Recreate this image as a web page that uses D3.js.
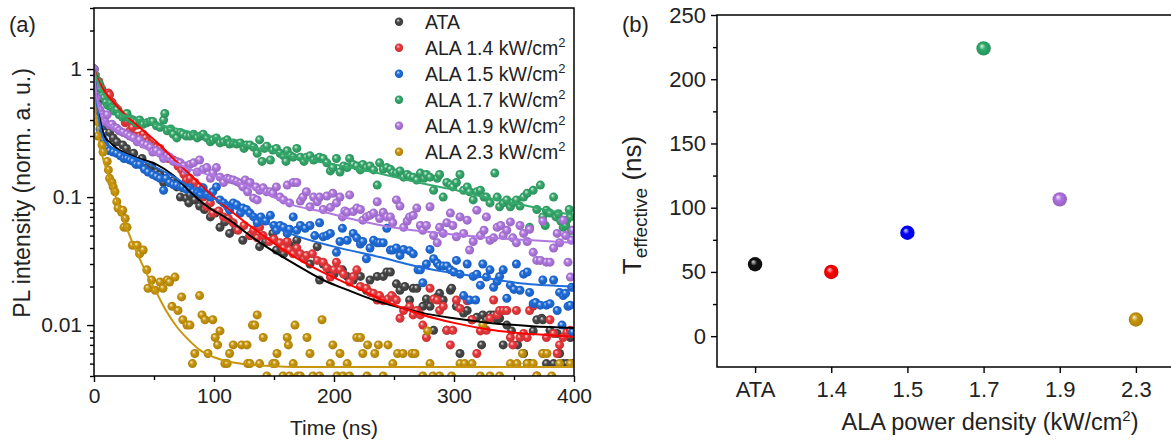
<!DOCTYPE html>
<html>
<head>
<meta charset="utf-8">
<script src="https://cdn.jsdelivr.net/npm/d3@7"></script>
<style>
body { margin: 0; background: #fff; }
svg { font-family: "Liberation Sans", Arial, sans-serif; }
</style>
</head>
<body>
<svg id="chart" width="1171" height="443"></svg>
<script>
// ---- panel (a): PL decay, [time ns, normalised intensity] ----
var ataPts = [[0,1.0],[1.7,0.75],[3.3,0.56],[5,0.46],[7.5,0.44],[10,0.36],[13,0.32],[16,0.29],[19,0.27],[24,0.255],[27,0.24],[30,0.21],[33,0.22],[36,0.19],[40,0.2],[44,0.17],[48,0.175],[52,0.157],[55,0.15],[58,0.13],[63,0.13],[66,0.135],[69,0.12],[72,0.10],[74,0.118],[77,0.098],[79,0.09],[80,0.104],[84,0.095],[88,0.085],[92,0.08],[97,0.07],[101,0.075],[105,0.058],[109,0.064],[113,0.052],[118,0.056],[124,0.046],[130,0.05],[138,0.041],[143,0.045],[149,0.052],[152,0.0386],[158,0.036],[163,0.042],[169,0.046],[174,0.034],[180,0.03],[186,0.041],[188,0.0225],[191,0.030],[196,0.027],[200,0.025],[207,0.027],[211,0.024],[216,0.0225],[222,0.024],[227,0.0187],[230,0.0225],[236,0.024],[241,0.024],[244,0.026],[247,0.026],[249,0.0166],[252,0.021],[255,0.0187],[259,0.02],[263,0.0157],[266,0.0194],[269,0.0194],[274,0.014],[277,0.016],[280,0.014],[283,0.0091],[286,0.0166],[288,0.0177],[291,0.0157],[294,0.0091],[297,0.0187],[298,0.0194],[302,0.014],[305,0.006],[308,0.0124],[311,0.013],[315,0.011],[319,0.0115],[323,0.007],[324,0.012],[327,0.011],[330,0.012],[333,0.012],[336,0.011],[338,0.0113],[341,0.007],[344,0.010],[348,0.009],[353,0.007],[358,0.006],[361,0.005],[363,0.005],[366,0.009],[369,0.011],[373,0.0113],[374,0.011],[377,0.005],[380,0.0091],[383,0.005],[386,0.0086],[388,0.006],[391,0.005],[394,0.005],[397,0.008],[399,0.005]];

var ala14Pts = [[0,1.0],[1,0.9],[2.5,0.79],[4,0.8],[5,0.75],[6.5,0.7],[7.5,0.66],[9,0.62],[11,0.59],[12,0.65],[13,0.63],[15,0.55],[16,0.52],[18,0.5],[20,0.48],[22,0.44],[24,0.42],[26,0.38],[27.5,0.39],[30,0.33],[32,0.35],[34,0.3],[36,0.365],[38,0.30],[41,0.31],[43,0.29],[45,0.27],[47,0.26],[50,0.25],[52,0.245],[55,0.24],[58,0.22],[62,0.2],[66,0.195],[70,0.175],[73,0.163],[75,0.15],[77,0.136],[80,0.14],[84,0.13],[88,0.12],[91,0.1],[94,0.084],[97,0.09],[99,0.075],[104,0.078],[108,0.07],[112,0.068],[116,0.063],[120,0.055],[125,0.06],[130,0.05],[133,0.055],[136,0.048],[138,0.058],[141,0.05],[146,0.045],[150,0.047],[155,0.044],[158,0.04],[161,0.045],[163,0.0386],[166,0.036],[169,0.04],[172,0.036],[175,0.033],[177,0.035],[182,0.036],[186,0.032],[191,0.031],[194,0.028],[197,0.0237],[200,0.027],[202,0.031],[205,0.027],[208,0.025],[213,0.0217],[216,0.024],[219,0.027],[222,0.02],[227,0.0194],[230,0.018],[233,0.0177],[236,0.0157],[238,0.017],[241,0.0155],[245,0.016],[248,0.017],[252,0.0157],[255,0.0113],[258,0.013],[263,0.014],[266,0.012],[269,0.013],[272,0.012],[274,0.010],[277,0.008],[280,0.0194],[283,0.016],[286,0.0157],[288,0.013],[291,0.014],[294,0.0091],[297,0.007],[299,0.0091],[302,0.0157],[305,0.0135],[311,0.0155],[315,0.011],[319,0.006],[322,0.009],[327,0.0091],[330,0.0113],[333,0.0157],[336,0.012],[338,0.013],[341,0.013],[344,0.013],[347,0.008],[349,0.007],[352,0.013],[355,0.008],[358,0.0086],[361,0.008],[363,0.013],[366,0.0141],[369,0.004],[374,0.006],[377,0.008],[380,0.011],[383,0.0086],[386,0.006],[388,0.007],[391,0.008],[394,0.0088],[397,0.0091],[399,0.0086]];

var ala15Pts = [[0,1.0],[1,0.71],[2,0.6],[2.5,0.52],[3.3,0.39],[5,0.34],[6.7,0.30],[8,0.28],[9,0.255],[11,0.24],[13,0.23],[16,0.225],[19,0.22],[22,0.21],[25,0.2],[27.5,0.2],[30,0.195],[32.5,0.19],[35,0.18],[38,0.18],[42,0.165],[45,0.157],[49,0.15],[52,0.145],[55,0.14],[58,0.113],[60,0.14],[63,0.13],[66,0.125],[69,0.124],[72,0.12],[74,0.12],[77,0.115],[80,0.118],[83,0.11],[86,0.11],[89,0.105],[91,0.118],[94,0.104],[97,0.1],[99,0.11],[102,0.12],[105,0.095],[108,0.09],[111,0.085],[113,0.079],[116,0.09],[119,0.087],[122,0.075],[124,0.082],[127,0.08],[130,0.075],[133,0.07],[136,0.063],[139,0.07],[143,0.065],[147,0.072],[150,0.06],[152,0.055],[155,0.06],[158,0.058],[161,0.052],[163,0.056],[166,0.07],[169,0.055],[172,0.06],[176,0.057],[180,0.06],[184,0.05],[188,0.063],[191,0.049],[194,0.05],[197,0.052],[202,0.037],[205,0.045],[207,0.057],[211,0.046],[216,0.052],[219,0.048],[222,0.043],[224,0.045],[227,0.033],[230,0.04],[233,0.046],[236,0.044],[238,0.044],[241,0.044],[244,0.057],[247,0.0386],[249,0.0386],[252,0.040],[255,0.035],[258,0.039],[263,0.038],[266,0.036],[270,0.027],[272,0.027],[274,0.0214],[277,0.03],[280,0.039],[283,0.033],[286,0.0305],[288,0.029],[291,0.029],[294,0.029],[297,0.027],[300,0.026],[302,0.032],[305,0.025],[308,0.017],[311,0.03],[313,0.0157],[316,0.024],[318,0.0157],[319,0.025],[322,0.0205],[324,0.03],[327,0.0237],[330,0.027],[333,0.0197],[336,0.022],[338,0.024],[341,0.027],[344,0.0162],[347,0.0205],[350,0.019],[352,0.03],[355,0.0187],[358,0.025],[361,0.026],[363,0.018],[366,0.0147],[368,0.015],[372,0.0143],[374,0.0225],[377,0.0143],[380,0.0147],[383,0.0225],[386,0.013],[388,0.018],[390,0.010],[391,0.017],[393,0.0177],[395,0.014],[397,0.0143],[398,0.0197],[399,0.0088]];

var ala17Pts = [[0,1.0],[1,0.9],[2.5,0.82],[4,0.78],[5.5,0.7],[7,0.62],[8.5,0.6],[10,0.55],[11.5,0.52],[13,0.54],[15,0.5],[17,0.47],[19,0.48],[21,0.44],[24,0.42],[26,0.43],[27.5,0.45],[30,0.41],[32.5,0.40],[35,0.38],[38,0.40],[41,0.37],[44,0.38],[47,0.39],[49,0.39],[52,0.36],[55,0.35],[58,0.40],[59,0.45],[61,0.33],[64,0.34],[66,0.31],[69,0.29],[72,0.32],[74,0.31],[77,0.3],[80,0.30],[83,0.31],[86,0.29],[89,0.3],[91,0.31],[94,0.29],[97,0.27],[99,0.28],[102,0.29],[105,0.265],[108,0.27],[111,0.28],[113,0.26],[116,0.265],[119,0.26],[122,0.265],[125,0.24],[127,0.255],[130,0.255],[133,0.245],[136,0.22],[138,0.28],[140,0.19],[142,0.24],[144,0.25],[147,0.195],[149,0.233],[152,0.24],[155,0.22],[158,0.21],[160,0.19],[161,0.23],[164,0.21],[166,0.205],[169,0.24],[172,0.205],[175,0.19],[177,0.205],[180,0.21],[183,0.195],[186,0.2],[188,0.205],[191,0.2],[194,0.185],[197,0.16],[199,0.17],[202,0.2],[205,0.157],[208,0.175],[211,0.17],[213,0.2],[216,0.18],[219,0.175],[222,0.163],[224,0.18],[227,0.17],[230,0.175],[233,0.163],[236,0.124],[238,0.185],[241,0.165],[244,0.17],[247,0.165],[249,0.155],[252,0.154],[255,0.16],[258,0.143],[261,0.15],[263,0.145],[266,0.143],[269,0.136],[272,0.154],[275,0.14],[277,0.15],[280,0.143],[283,0.113],[286,0.14],[288,0.15],[291,0.1],[294,0.13],[297,0.125],[299,0.12],[302,0.13],[305,0.15],[308,0.113],[311,0.12],[313,0.11],[316,0.095],[319,0.11],[322,0.113],[325,0.1],[327,0.1],[330,0.09],[334,0.154],[336,0.1],[338,0.084],[341,0.09],[344,0.095],[347,0.084],[349,0.09],[352,0.095],[355,0.085],[358,0.1],[361,0.107],[363,0.058],[366,0.113],[369,0.08],[372,0.124],[374,0.07],[376,0.06],[377,0.079],[380,0.075],[383,0.1],[385,0.07],[387,0.074],[389,0.065],[391,0.058],[393,0.06],[394,0.066],[396,0.08],[397,0.07],[398,0.055],[399,0.049]];

var ala19Pts = [[0,1.0],[1,0.75],[2,0.6],[3,0.52],[5,0.48],[6.7,0.44],[8,0.42],[9,0.39],[11,0.44],[13,0.365],[15,0.37],[17,0.35],[19,0.345],[21,0.33],[24,0.32],[27.5,0.31],[30,0.30],[33,0.29],[36,0.27],[38,0.28],[41,0.26],[44,0.255],[47,0.245],[49,0.225],[52,0.23],[55,0.22],[58,0.2],[61,0.21],[63,0.205],[66,0.19],[69,0.19],[72,0.185],[75,0.175],[77,0.163],[80,0.18],[83,0.185],[86,0.157],[88,0.195],[91,0.165],[94,0.17],[97,0.14],[99,0.154],[102,0.17],[105,0.143],[108,0.13],[111,0.14],[113,0.138],[116,0.136],[119,0.132],[122,0.128],[124,0.12],[126,0.136],[128,0.11],[130,0.13],[133,0.098],[135,0.12],[136,0.095],[138,0.113],[141,0.118],[144,0.11],[147,0.11],[149,0.107],[152,0.12],[155,0.1],[158,0.095],[161,0.124],[163,0.09],[166,0.13],[169,0.13],[172,0.093],[174,0.1],[177,0.11],[180,0.084],[183,0.1],[186,0.092],[188,0.1],[191,0.08],[194,0.102],[197,0.083],[199,0.107],[202,0.09],[205,0.1],[207,0.07],[209,0.078],[211,0.076],[213,0.104],[216,0.077],[219,0.082],[222,0.08],[224,0.066],[227,0.07],[230,0.072],[233,0.075],[236,0.092],[238,0.068],[241,0.076],[244,0.07],[247,0.07],[249,0.063],[252,0.095],[255,0.085],[258,0.058],[261,0.065],[263,0.07],[266,0.072],[269,0.082],[272,0.06],[274,0.055],[277,0.06],[280,0.084],[283,0.05],[286,0.044],[288,0.058],[291,0.052],[294,0.063],[297,0.075],[299,0.06],[302,0.049],[305,0.07],[308,0.052],[311,0.066],[313,0.0386],[316,0.045],[319,0.079],[322,0.05],[325,0.055],[327,0.07],[330,0.046],[333,0.048],[336,0.058],[339,0.06],[341,0.05],[344,0.055],[347,0.064],[349,0.048],[352,0.044],[355,0.06],[358,0.052],[361,0.045],[363,0.056],[366,0.037],[369,0.032],[372,0.032],[374,0.065],[377,0.031],[380,0.031],[383,0.04],[386,0.052],[388,0.044],[391,0.066],[393,0.05],[395,0.031],[397,0.0237],[398,0.046],[399,0.055]];

var ala23Pts = [[0,0.52],[0.5,0.5],[2.5,0.39],[3.3,0.30],[6.7,0.255],[7.5,0.225],[11,0.19],[12,0.163],[13,0.14],[15,0.13],[16,0.12],[17.5,0.11],[19,0.092],[20,0.082],[23,0.076],[24,0.079],[25,0.058],[26,0.068],[27.5,0.058],[32,0.042],[36,0.042],[38,0.036],[41,0.0386],[44,0.027],[45,0.0194],[48,0.0225],[51,0.0187],[55,0.0217],[57.5,0.0194],[61,0.0225],[63,0.0217],[65,0.014],[67.5,0.0237],[70,0.013],[73,0.0166],[74,0.011],[77.5,0.010],[80,0.010],[82,0.005],[84,0.006],[88,0.017],[90,0.012],[92.5,0.011],[95,0.006],[99,0.011],[101,0.008],[103,0.007],[105,0.009],[109,0.005],[111,0.005],[113,0.006],[116,0.007],[123,0.007],[127.5,0.007],[128,0.005],[130,0.005],[132,0.010],[134,0.010],[136,0.012],[138,0.005],[141,0.008],[144,0.004],[149,0.005],[151,0.005],[152.5,0.006],[157.5,0.004],[161,0.008],[162,0.007],[163,0.004],[166,0.005],[167.5,0.010],[170,0.004],[172,0.004],[177.5,0.008],[180,0.006],[182.5,0.004],[188,0.004],[190,0.011],[197,0.005],[199,0.007],[202.5,0.004],[205,0.006],[207.5,0.004],[211,0.005],[213,0.004],[219,0.008],[222,0.008],[224,0.006],[227.5,0.004],[228,0.007],[234,0.006],[237,0.007],[241,0.004],[245,0.007],[249,0.005],[253,0.006],[257.5,0.006],[265,0.006],[267.5,0.006],[274,0.004],[278,0.009],[280,0.005],[282.5,0.004],[288,0.004],[298,0.004],[305,0.005],[309,0.005],[315,0.005],[322,0.004],[324,0.010],[330,0.004],[338,0.004],[347,0.005],[352.5,0.005],[357,0.006],[361,0.005],[366,0.005],[369,0.004],[374,0.006],[377.5,0.006],[381.5,0.004],[388,0.005],[397,0.005]];

// fitted decay curves, [time ns, intensity]
var ataFit = [[0,1],[1.5,0.72],[3,0.52],[5,0.4],[7.5,0.32],[10,0.285],[13,0.27],[18,0.245],[24,0.225],[38,0.2],[52,0.18],[66,0.148],[80,0.11],[94,0.085],[113,0.066],[130,0.05],[147,0.039],[170,0.029],[191,0.0225],[210,0.019],[233,0.0157],[255,0.0137],[274,0.0124],[300,0.0113],[330,0.0104],[365,0.0098],[400,0.0095]];
var ala14Fit = [[0,1],[3,0.85],[6,0.74],[11,0.63],[17,0.54],[24,0.46],[35,0.37],[52,0.27],[66,0.2],[80,0.15],[100,0.1],[122,0.068],[145,0.047],[163,0.036],[190,0.026],[219,0.0195],[245,0.015],[274,0.012],[300,0.0104],[330,0.0092],[365,0.0085],[400,0.0081]];
var ala15Fit = [[0,1],[1.5,0.7],[3,0.48],[5,0.36],[7,0.3],[11,0.26],[16,0.24],[24,0.22],[38,0.195],[52,0.17],[66,0.145],[80,0.12],[99,0.098],[122,0.078],[150,0.059],[163,0.052],[200,0.041],[238,0.034],[274,0.028],[322,0.0237],[360,0.021],[400,0.02]];
var ala17Fit = [[0,1],[2,0.85],[5,0.72],[10,0.58],[15,0.5],[20,0.46],[30,0.42],[50,0.375],[70,0.34],[88,0.31],[110,0.28],[130,0.25],[150,0.225],[172,0.2],[200,0.18],[235,0.155],[255,0.14],[270,0.13],[300,0.114],[325,0.1],[350,0.09],[375,0.08],[400,0.072]];
var ala19Fit = [[0,1],[1.5,0.7],[3,0.55],[5,0.46],[8,0.4],[13,0.36],[20,0.33],[30,0.29],[40,0.25],[50,0.22],[65,0.19],[80,0.165],[95,0.15],[108,0.14],[125,0.125],[140,0.11],[163,0.088],[190,0.077],[219,0.066],[245,0.059],[274,0.054],[300,0.051],[330,0.048],[365,0.046],[400,0.044]];
var ala23Fit = [[0,0.55],[2,0.4],[5,0.25],[9,0.18],[13,0.14],[16,0.115],[19,0.095],[22,0.078],[28,0.055],[33,0.042],[38,0.033],[45,0.024],[52,0.018],[60,0.013],[69,0.0097],[78,0.0078],[88,0.0064],[100,0.0056],[116,0.0051],[130,0.0049],[144,0.0048],[170,0.0047],[400,0.0047]];

var legendNames = ["ATA", "ALA 1.4 kW/cm", "ALA 1.5 kW/cm", "ALA 1.7 kW/cm", "ALA 1.9 kW/cm", "ALA 2.3 kW/cm"];
var timeTicks = [0, 100, 200, 300, 400];
var timeMinor = [50, 150, 250, 350];
var plTicks = [1, 0.1, 0.01];
var plTickLabels = ["1", "0.1", "0.01"];

// ---- panel (b): effective lifetime ----
var powerLabels = ["ATA", "1.4", "1.5", "1.7", "1.9", "2.3"];
var tauEff = [56, 50, 80.5, 224, 106.5, 13];
var tauTicks = [0, 50, 100, 150, 200, 250];
var tauMinor = [25, 75, 125, 175, 225];

var ptColors = ["#474747", "#e9383c", "#1f6ddb", "#35a96b", "#b078e0", "#c8960c"];
var lineColors = ["#000000", "#ff0000", "#1f6ddb", "#35a96b", "#b078e0", "#c8960c"];
var dotColorsB = ["#111111", "#ff0000", "#0000ff", "#2eaa6a", "#b070e0", "#c8960c"];

var series = [
  {pts: ataPts, fit: ataFit},
  {pts: ala14Pts, fit: ala14Fit},
  {pts: ala15Pts, fit: ala15Fit},
  {pts: ala17Pts, fit: ala17Fit},
  {pts: ala19Pts, fit: ala19Fit},
  {pts: ala23Pts, fit: ala23Fit}
];

var svg = d3.select("#chart");
var defs = svg.append("defs");

// little shaded balls like the origin markers
function addGrad(id, color) {
  var g = defs.append("radialGradient").attr("id", id)
      .attr("cx", "50%").attr("cy", "50%").attr("r", "55%")
      .attr("fx", "36%").attr("fy", "32%");
  g.append("stop").attr("offset", "0%").attr("stop-color", d3.interpolateRgb(color, "#fff")(0.85));
  g.append("stop").attr("offset", "40%").attr("stop-color", color);
  g.append("stop").attr("offset", "100%").attr("stop-color", d3.color(color).darker(0.5));
}
ptColors.forEach(function (c, i) { addGrad("ga" + i, c); });
dotColorsB.forEach(function (c, i) { addGrad("gb" + i, c); });

// ===== panel (a) =====
var x1 = d3.scaleLinear().domain([0, 400]).range([94, 574]);
var y1 = d3.scaleLog().domain([0.004, 3]).range([376, 8]);

defs.append("clipPath").attr("id", "clipA")
  .append("rect").attr("x", 94).attr("y", 8).attr("width", 480).attr("height", 368);

var plot = svg.append("g").attr("clip-path", "url(#clipA)");

series.forEach(function (s, i) {
  plot.append("g").selectAll("circle")
    .data(s.pts)
    .enter()
    .append("circle")
      .attr("cx", function (d) { return x1(d[0]); })
      .attr("cy", function (d) { return y1(d[1]); })
      .attr("r", 4.5)
      .attr("fill", "url(#ga" + i + ")");
});

var line = d3.line()
  .x(function (d) { return x1(d[0]); })
  .y(function (d) { return y1(d[1]); })
  .curve(d3.curveMonotoneX);

series.forEach(function (s, i) {
  plot.append("path")
    .attr("d", line(s.fit))
    .attr("fill", "none")
    .attr("stroke", lineColors[i])
    .attr("stroke-width", 2);
});

// axes
var logMinor = [];
[0.001, 0.01, 0.1, 1].forEach(function (dec) {
  for (var k = 2; k <= 9; k++) {
    var v = dec * k;
    if (v >= 0.004 && v <= 3) logMinor.push(v);
  }
});

function styleAxis(g) {
  g.select(".domain").remove();
  g.selectAll("line").attr("stroke", "#000").attr("stroke-width", 1.4);
  g.selectAll("text").attr("fill", "#222").style("font-family", '"Liberation Sans", Arial, sans-serif');
}

svg.append("g").attr("transform", "translate(0,376)")
  .call(d3.axisBottom(x1).tickValues(timeTicks).tickSize(6).tickPadding(6).tickFormat(d3.format("d")))
  .call(styleAxis)
  .selectAll("text").style("font-size", "21px");
svg.append("g").attr("transform", "translate(0,376)")
  .call(d3.axisBottom(x1).tickValues(timeMinor).tickSize(4).tickFormat(""))
  .call(styleAxis);

svg.append("g").attr("transform", "translate(94,0)")
  .call(d3.axisLeft(y1).tickValues(plTicks).tickSize(7).tickPadding(5)
        .tickFormat(function (d, i) { return plTickLabels[i]; }))
  .call(styleAxis)
  .selectAll("text").style("font-size", "21px");
svg.append("g").attr("transform", "translate(94,0)")
  .call(d3.axisLeft(y1).tickValues(logMinor).tickSize(4).tickFormat(""))
  .call(styleAxis);

svg.append("rect").attr("x", 94).attr("y", 8).attr("width", 480).attr("height", 368)
  .attr("fill", "none").attr("stroke", "#000").attr("stroke-width", 1.5);

// legend
var leg = svg.append("g");
legendNames.forEach(function (name, i) {
  var cy = 21.7 + 26 * i;
  leg.append("circle").attr("cx", 399).attr("cy", cy).attr("r", 4.2).attr("fill", "url(#ga" + i + ")");
  var t = leg.append("text").attr("x", 425).attr("y", cy + 7).attr("font-size", "19.5px").attr("fill", "#222").text(name);
  if (i > 0) t.append("tspan").attr("dy", -8).attr("font-size", "13px").text("2");
});

svg.append("text").attr("x", 334).attr("y", 435).attr("text-anchor", "middle")
  .attr("font-size", "21px").attr("fill", "#222").text("Time (ns)");
svg.append("text").attr("transform", "translate(30,193) rotate(-90)").attr("text-anchor", "middle")
  .attr("font-size", "23px").attr("fill", "#222").text("PL intensity (norm. a. u.)");
svg.append("text").attr("x", 9).attr("y", 32).attr("font-size", "22px").attr("fill", "#222").text("(a)");

// ===== panel (b) =====
var x2 = d3.scaleLinear().domain([-0.5, 5.5]).range([717, 1174]);
var y2 = d3.scaleLinear().domain([-24, 250]).range([367, 15]);

svg.append("g").attr("transform", "translate(0,367)")
  .call(d3.axisBottom(x2).tickValues(d3.range(powerLabels.length)).tickSize(6).tickPadding(8)
        .tickFormat(function (d) { return powerLabels[d]; }))
  .call(styleAxis)
  .selectAll("text").style("font-size", "22px");

svg.append("g").attr("transform", "translate(717,0)")
  .call(d3.axisLeft(y2).tickValues(tauTicks).tickSize(6).tickPadding(5))
  .call(styleAxis)
  .selectAll("text").style("font-size", "22px");
svg.append("g").attr("transform", "translate(717,0)")
  .call(d3.axisLeft(y2).tickValues(tauMinor).tickSize(4).tickFormat(""))
  .call(styleAxis);

svg.append("rect").attr("x", 717).attr("y", 15).attr("width", 457).attr("height", 352)
  .attr("fill", "none").attr("stroke", "#000").attr("stroke-width", 1.5);

svg.append("g").selectAll("circle")
  .data(tauEff)
  .enter()
  .append("circle")
    .attr("cx", function (d, i) { return x2(i); })
    .attr("cy", function (d) { return y2(d); })
    .attr("r", 7.2)
    .attr("fill", function (d, i) { return "url(#gb" + i + ")"; });

var xl = svg.append("text").attr("x", 990).attr("y", 430).attr("text-anchor", "middle")
  .attr("font-size", "23.5px").attr("fill", "#222").text("ALA power density (kW/cm");
xl.append("tspan").attr("dy", -9).attr("font-size", "15px").text("2");
xl.append("tspan").attr("dy", 9).text(")");

var yl = svg.append("text").attr("transform", "translate(641,205) rotate(-90)").attr("text-anchor", "middle")
  .attr("font-size", "26px").attr("fill", "#222");
yl.append("tspan").text("T");
yl.append("tspan").attr("dy", 6).attr("font-size", "19px").text("effective");
yl.append("tspan").attr("dy", -6).text(" (ns)");

svg.append("text").attr("x", 622).attr("y", 32).attr("font-size", "22px").attr("fill", "#222").text("(b)");
</script>
</body>
</html>
